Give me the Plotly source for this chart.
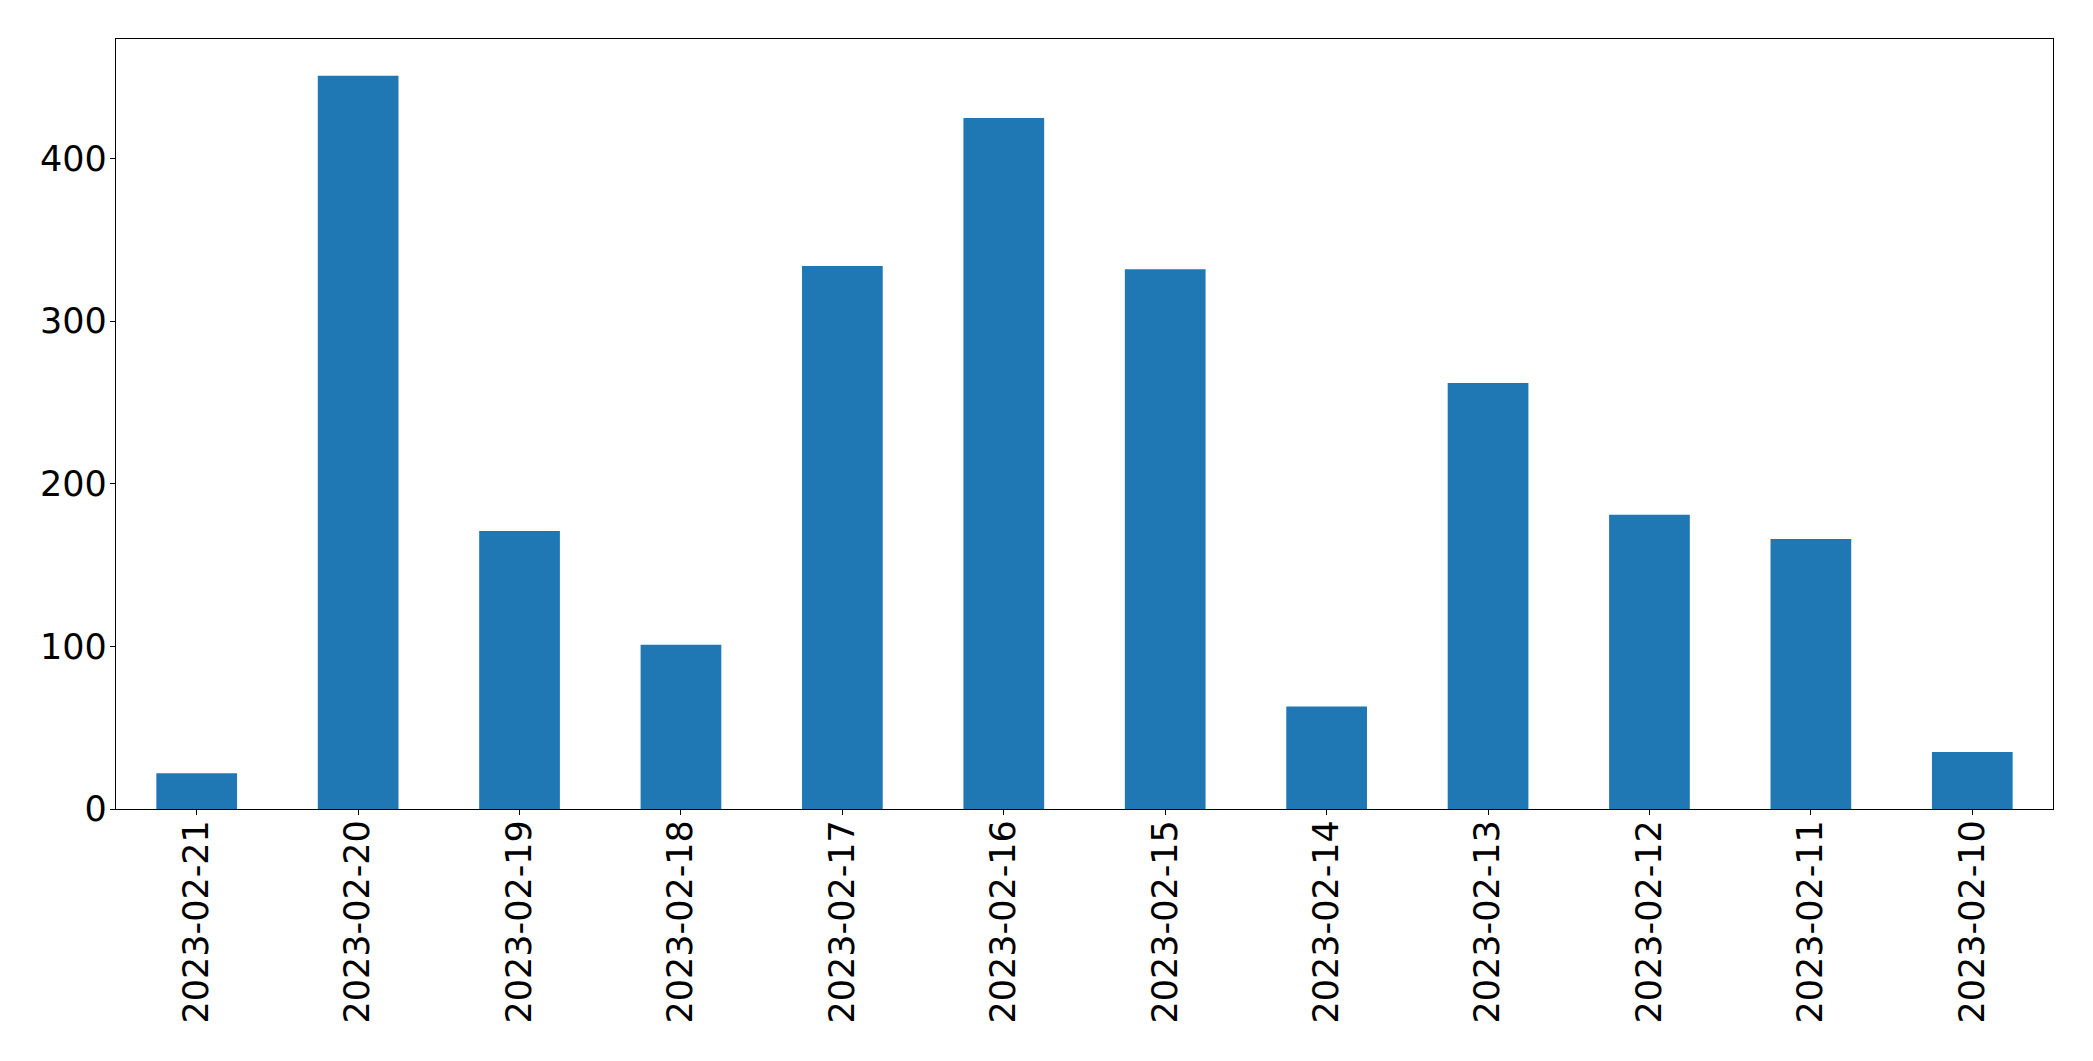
import plotly.graph_objects as go

dates = ["2023-02-21", "2023-02-20", "2023-02-19", "2023-02-18", "2023-02-17", "2023-02-16",
         "2023-02-15", "2023-02-14", "2023-02-13", "2023-02-12", "2023-02-11", "2023-02-10"]
counts = [22, 451, 171, 101, 334, 425, 332, 63, 262, 181, 166, 35]
y_ticks = [0, 100, 200, 300, 400]

fig = go.Figure(go.Bar(x=dates, y=counts, width=0.5, marker=dict(color="#1f77b4", line=dict(width=0))))

fig.update_layout(
    width=2093, height=1061,
    margin=dict(l=108, r=48, t=31, b=260),
    paper_bgcolor="white", plot_bgcolor="white",
    font=dict(family="DejaVu Sans", size=35, color="black"),
    showlegend=False,
)
fig.update_xaxes(
    type="category", range=[-0.5, len(dates) - 0.5],
    tickangle=-90, ticks="outside", ticklen=5, tickwidth=1.3, tickcolor="black",
    showline=True, linecolor="black", linewidth=1.3, mirror=True,
    showgrid=False, zeroline=False, ticklabelstandoff=-9,
)
fig.update_yaxes(
    range=[0, max(counts) * 1.05], tickvals=y_ticks,
    ticks="outside", ticklen=5, tickwidth=1.3, tickcolor="black",
    showline=True, linecolor="black", linewidth=1.3, mirror=True,
    showgrid=False, zeroline=False, ticklabelstandoff=-4,
)
fig.write_html("out.html")
